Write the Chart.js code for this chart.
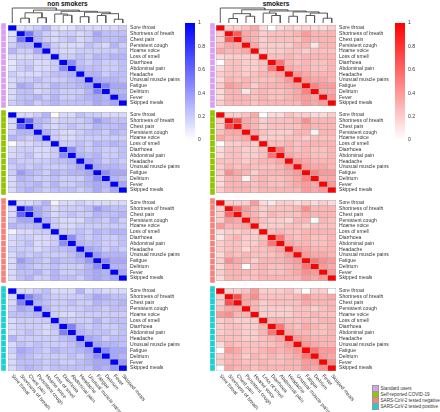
<!DOCTYPE html>
<html>
<head>
<meta charset="utf-8">
<script src="https://cdn.jsdelivr.net/npm/chart.js@4.4.0/dist/chart.umd.min.js"></script>
<style>
    body { margin: 0; width: 440px; height: 412px; overflow: hidden; position: relative; background: #fff;
           font-family: "Liberation Sans", Arial, sans-serif; }
    canvas { position: absolute; }
    .title { position: absolute; top: 0; font-weight: bold; font-size: 6.5px; text-align: center; color: #111; }
    #legend { position: absolute; left: 372px; top: 384.5px; font-size: 4.6px; color: #333; }
    #legend div { height: 6.3px; line-height: 6.3px; white-space: nowrap; }
    #legend span { display: inline-block; width: 5px; height: 5px; border: 0.5px solid #999; vertical-align: middle; margin-right: 1.5px; }
</style>
</head>
<body>
<div class="title" style="left:8px;width:119px">non smokers</div>
<div class="title" style="left:216px;width:120px">smokers</div>
<div id="legend"></div>
<script>
const symptoms = ['Sore throat', 'Shortness of breath', 'Chest pain', 'Persistent cough', 'Hoarse voice',
    'Loss of smell', 'Diarrhoea', 'Abdominal pain', 'Headache', 'Unusual muscle pains', 'Fatigue',
    'Delirium', 'Fever', 'Skipped meals'];
const groups = ['Standard users', 'Self-reported COVID-19', 'SARS-CoV-2 tested negative', 'SARS-CoV-2 tested positive'];
const groupColors = ['#DA9EF2', '#93C600', '#F5847E', '#1CCFD3'];
const scaleTicks = [0, 0.2, 0.4, 0.6, 0.8, 1];

// correlations, upper triangle (row i holds columns i+1..14)
const nonSmokersStandard = [
    [.12, .15, .2, .3, .15, .1, .12, .2, .15, .15, .15, .15, .2],
    [.55, .3, .2, .15, .2, .2, .15, .2, .35, .25, .25, .25],
    [.3, .2, .15, .2, .25, .15, .2, .3, .25, .25, .3],
    [.35, .2, .15, .15, .15, .25, .2, .15, .3, .2],
    [.2, .15, .15, .2, .2, .2, .2, .2, .25],
    [.2, .2, .25, .2, .3, .25, .3, .3],
    [.45, .25, .2, .25, .2, .2, .25],
    [.3, .25, .25, .2, .2, .25],
    [.3, .3, .2, .25, .25],
    [.35, .3, .3, .25],
    [.5, .35, .35],
    [.3, .3],
    [.35]
];
const nonSmokersSelfReported = [
    [.15, .15, .2, .3, .02, .15, .15, .25, .2, .2, .15, .15, .15],
    [.6, .3, .25, .15, .2, .2, .2, .25, .4, .3, .25, .25],
    [.3, .2, .15, .2, .25, .2, .2, .3, .25, .25, .3],
    [.3, .2, .15, .15, .2, .25, .25, .2, .3, .25],
    [.2, .15, .15, .2, .2, .2, .2, .2, .2],
    [.2, .2, .25, .2, .3, .25, .3, .25],
    [.45, .25, .2, .25, .2, .2, .25],
    [.3, .25, .3, .2, .2, .25],
    [.35, .3, .2, .25, .2],
    [.35, .3, .3, .25],
    [.45, .35, .35],
    [.3, .25],
    [.35]
];
const nonSmokersNegative = [
    [.15, .15, .2, .3, .05, .15, .15, .2, .15, .15, .15, .15, .15],
    [.6, .35, .25, .15, .2, .2, .2, .25, .4, .3, .25, .25],
    [.35, .25, .15, .2, .25, .2, .2, .3, .25, .25, .3],
    [.3, .2, .15, .15, .15, .25, .25, .2, .3, .2],
    [.2, .15, .15, .2, .2, .2, .2, .2, .2],
    [.2, .2, .25, .2, .3, .25, .3, .3],
    [.45, .25, .2, .25, .2, .2, .25],
    [.3, .25, .25, .2, .2, .25],
    [.35, .3, .2, .25, .2],
    [.4, .3, .3, .3],
    [.45, .35, .35],
    [.3, .3],
    [.35]
];
const nonSmokersPositive = [
    [.15, .15, .2, .25, .15, .15, .15, .3, .15, .2, .15, .15, .15],
    [.5, .35, .25, .2, .2, .2, .2, .25, .35, .3, .25, .25],
    [.3, .25, .2, .2, .25, .2, .2, .3, .25, .25, .3],
    [.3, .2, .2, .2, .2, .25, .25, .2, .25, .25],
    [.2, .15, .15, .2, .2, .2, .2, .2, .2],
    [.25, .2, .2, .2, .3, .2, .25, .25],
    [.5, .25, .2, .25, .2, .2, .25],
    [.3, .25, .25, .25, .2, .25],
    [.35, .3, .2, .25, .25],
    [.35, .3, .3, .25],
    [.45, .35, .35],
    [.35, .3],
    [.4]
];
const smokersStandard = [
    [.2, .2, .25, .35, .15, .0, .15, .2, .15, .2, .15, .15, .2],
    [.65, .35, .3, .2, .25, .25, .25, .3, .4, .3, .3, .3],
    [.35, .3, .2, .25, .25, .25, .25, .35, .3, .3, .3],
    [.35, .2, .2, .2, .2, .3, .3, .1, .3, .3],
    [.2, .2, .2, .25, .25, .2, .25, .25, .25],
    [.25, .25, .3, .25, .3, .3, .3, .3],
    [.55, .3, .25, .3, .25, .25, .3],
    [.35, .3, .3, .25, .25, .3],
    [.4, .35, .3, .3, .3],
    [.4, .35, .35, .3],
    [.5, .4, .4],
    [.35, .35],
    [.4]
];
const smokersSelfReported = [
    [.2, .2, .25, .35, .0, .15, .15, .25, .2, .2, .15, .15, .2],
    [.7, .35, .3, .2, .25, .25, .25, .3, .45, .3, .3, .3],
    [.35, .3, .2, .25, .25, .25, .25, .35, .3, .3, .3],
    [.35, .25, .2, .2, .2, .3, .3, .05, .3, .3],
    [.2, .2, .2, .25, .25, .2, .25, .25, .25],
    [.25, .25, .3, .25, .3, .3, .3, .3],
    [.55, .3, .25, .3, .25, .25, .3],
    [.35, .3, .3, .25, .25, .3],
    [.4, .35, .3, .3, .3],
    [.4, .35, .35, .3],
    [.5, .4, .4],
    [.35, .35],
    [.4]
];
const smokersNegative = [
    [.2, .2, .2, .4, .15, .1, .2, .2, .15, .2, .15, .2, .15],
    [.6, .4, .3, .2, .25, .25, .25, .3, .45, .3, .3, .3],
    [.35, .3, .2, .3, .25, .25, .25, .35, .3, .3, .3],
    [.35, .25, .2, .2, .15, .3, .3, .0, .3, .25],
    [.2, .2, .2, .25, .25, .2, .25, .25, .25],
    [.25, .3, .25, .25, .3, .3, .3, .3],
    [.55, .3, .25, .3, .25, .25, .3],
    [.35, .3, .3, .25, .25, .3],
    [.4, .35, .3, .3, .3],
    [.4, .35, .35, .3],
    [.55, .45, .4],
    [.4, .35],
    [.4]
];
const smokersPositive = [
    [.2, .2, .25, .4, .2, .2, .2, .25, .15, .0, .2, .2, .0],
    [.7, .35, .45, .25, .25, .25, .25, .3, .4, .3, .3, .35],
    [.35, .3, .2, .25, .25, .25, .25, .35, .3, .3, .3],
    [.3, .2, .2, .2, .2, .25, .25, .2, .25, .3],
    [.2, .2, .2, .2, .25, .25, .3, .25, .25],
    [.3, .3, .25, .25, .3, .25, .3, .3],
    [.55, .3, .25, .35, .3, .25, .3],
    [.35, .3, .3, .25, .25, .3],
    [.4, .35, .3, .3, .3],
    [.4, .35, .3, .3],
    [.55, .4, .4],
    [.4, .35],
    [.45]
];

// column clustering (hclust style: negative = leaf, positive = earlier merge)
const clusterMerges = [[-2, -3], [-4, -5], [1, 2], [-7, -8], [-6, 4], [-9, -10], [-11, -12],
    [-13, -14], [7, 8], [6, 9], [5, 10], [3, 11], [-1, 12]];
const nonSmokersHeights = [.32, .35, .68, .52, .6, .42, .5, .25, .62, .72, .78, .86, 1.0];
const smokersHeights = [.3, .45, .62, .5, .66, .45, .5, .32, .66, .74, .8, .88, 1.0];

const FONT = '"Liberation Sans", Arial, sans-serif';
const PAD = 4;
Chart.defaults.font.family = FONT;
Chart.defaults.color = '#333';
Chart.defaults.animation = false;
Chart.defaults.responsive = false;
Chart.defaults.plugins.legend.display = false;
Chart.defaults.plugins.tooltip.enabled = false;

function shade(v, hue) {
    const c = Math.round(255 * (1 - Math.min(1, Math.max(0, v))));
    return hue === 'blue' ? `rgb(${c},${c},255)` : `rgb(255,${c},${c})`;
}

function fullMatrix(upper) {
    const m = symptoms.map(() => symptoms.map(() => 1));
    upper.forEach((row, i) => row.forEach((v, k) => {
        const j = i + 1 + k;
        m[i][j] = v;
        m[j][i] = v;
    }));
    return m;
}

function addCanvas(left, top, width, height) {
    const c = document.createElement('canvas');
    c.width = width;
    c.height = height;
    c.style.left = left + 'px';
    c.style.top = top + 'px';
    c.style.width = width + 'px';
    c.style.height = height + 'px';
    document.body.appendChild(c);
    return c;
}

// rotated column names under the bottom heatmaps
const bottomLabels = {
    id: 'bottomLabels',
    afterDraw(chart) {
        const { ctx, chartArea, scales } = chart;
        ctx.save();
        ctx.font = '5.1px ' + FONT;
        ctx.fillStyle = '#333';
        ctx.textAlign = 'left';
        ctx.textBaseline = 'middle';
        symptoms.forEach((s, i) => {
            ctx.save();
            ctx.translate(scales.x.getPixelForValue(i + 0.5), chartArea.bottom + 4);
            ctx.rotate(50 * Math.PI / 180);
            ctx.fillText(s, 0, 0);
            ctx.restore();
        });
        ctx.restore();
    }
};

// colour key: one thin slice per pixel row, coloured by the scale value there
const colorKey = {
    id: 'colorKey',
    beforeDatasetsDraw(chart, args, opts) {
        const { ctx, scales } = chart;
        const top = Math.round(scales.y.getPixelForValue(1));
        const bottom = Math.round(scales.y.getPixelForValue(0));
        ctx.save();
        for (let py = top; py < bottom; py++) {
            ctx.fillStyle = shade(scales.y.getValueForPixel(py + 0.5), opts.hue);
            ctx.fillRect(scales.x.left, py, scales.x.right - scales.x.left, 1);
        }
        ctx.restore();
    }
};

function renderHeatmap(left, top, width, upper, hue, showX) {
    const m = fullMatrix(upper);
    const bottom = showX ? 46 : PAD;
    const canvas = addCanvas(left, top - PAD, width + 57, 85 + PAD + bottom);
    new Chart(canvas, {
        type: 'bar',
        data: {
            labels: symptoms,
            datasets: symptoms.map((s, c) => ({
                label: s,
                data: symptoms.map(() => 1),
                backgroundColor: m.map(row => shade(row[c], hue)),
                borderColor: '#aaaaaa',
                borderWidth: 0.65,
                borderSkipped: false,
                categoryPercentage: 1,
                barPercentage: 1
            }))
        },
        options: {
            indexAxis: 'y',
            layout: { padding: { top: PAD, bottom: bottom, left: 0, right: 0 } },
            scales: {
                x: { stacked: true, min: 0, max: symptoms.length, display: false },
                y: {
                    stacked: true,
                    position: 'right',
                    grid: { display: false, drawTicks: false },
                    border: { display: false },
                    ticks: { padding: 3, autoSkip: false, font: { size: 5.1 } },
                    afterFit: s => { s.width = 57; }
                }
            }
        },
        plugins: showX ? [bottomLabels] : []
    });
}

function renderStrip(left, top, color) {
    const canvas = addCanvas(left, top, 5, 85);
    new Chart(canvas, {
        type: 'bar',
        data: {
            labels: symptoms,
            datasets: [{
                data: symptoms.map(() => 1),
                backgroundColor: color,
                borderColor: 'rgba(255,255,255,0.45)',
                borderWidth: 0.5,
                borderSkipped: false,
                categoryPercentage: 1,
                barPercentage: 1
            }]
        },
        options: {
            indexAxis: 'y',
            scales: { x: { display: false, min: 0, max: 1 }, y: { display: false } }
        }
    });
}

function renderDendrogram(left, width, heights) {
    const pos = [];
    const datasets = clusterMerges.map(([a, b], k) => {
        const xa = a < 0 ? -a - 0.5 : pos[a - 1];
        const xb = b < 0 ? -b - 0.5 : pos[b - 1];
        const ya = a < 0 ? 0 : heights[a - 1];
        const yb = b < 0 ? 0 : heights[b - 1];
        pos.push((xa + xb) / 2);
        return {
            data: [{ x: xa, y: ya }, { x: xa, y: heights[k] }, { x: xb, y: heights[k] }, { x: xb, y: yb }],
            showLine: true,
            borderColor: '#5a5a5a',
            borderWidth: 1,
            pointRadius: 0
        };
    });
    const canvas = addCanvas(left, 5, width, 18);
    new Chart(canvas, {
        type: 'scatter',
        data: { datasets },
        options: {
            scales: {
                x: { display: false, min: 0, max: symptoms.length },
                y: { display: false, min: 0, max: 1.2 }
            }
        }
    });
}

function renderColorBar(left, hue) {
    const canvas = addCanvas(left, 21 - PAD, 28, 121 + 2 * PAD);
    new Chart(canvas, {
        type: 'bar',
        data: { labels: [''], datasets: [] },
        options: {
            layout: { padding: { top: PAD, bottom: PAD } },
            plugins: { colorKey: { hue } },
            scales: {
                x: { display: false },
                y: {
                    min: 0, max: 1,
                    position: 'right',
                    grid: { display: false, drawTicks: false },
                    border: { display: false },
                    afterBuildTicks: s => { s.ticks = scaleTicks.map(v => ({ value: v })); },
                    ticks: { padding: 3, font: { size: 5.1 }, callback: v => String(v) },
                    afterFit: s => { s.width = 18; }
                }
            }
        },
        plugins: [colorKey]
    });
}

const panelTops = [23, 110, 198, 286];
const nonSmokers = [nonSmokersStandard, nonSmokersSelfReported, nonSmokersNegative, nonSmokersPositive];
const smokers = [smokersStandard, smokersSelfReported, smokersNegative, smokersPositive];

renderDendrogram(8, 119, nonSmokersHeights);
renderDendrogram(216, 120, smokersHeights);

panelTops.forEach((top, g) => {
    const last = g === panelTops.length - 1;
    renderStrip(1, top, groupColors[g]);
    renderStrip(210, top, groupColors[g]);
    renderHeatmap(8, top, 119, nonSmokers[g], 'blue', last);
    renderHeatmap(216, top, 120, smokers[g], 'red', last);
});

renderColorBar(185, 'blue');
renderColorBar(395, 'red');

const legend = document.getElementById('legend');
groups.forEach((name, i) => {
    const row = document.createElement('div');
    row.innerHTML = `<span style="background:${groupColors[i]}"></span>${name}`;
    legend.appendChild(row);
});
</script>
</body>
</html>
